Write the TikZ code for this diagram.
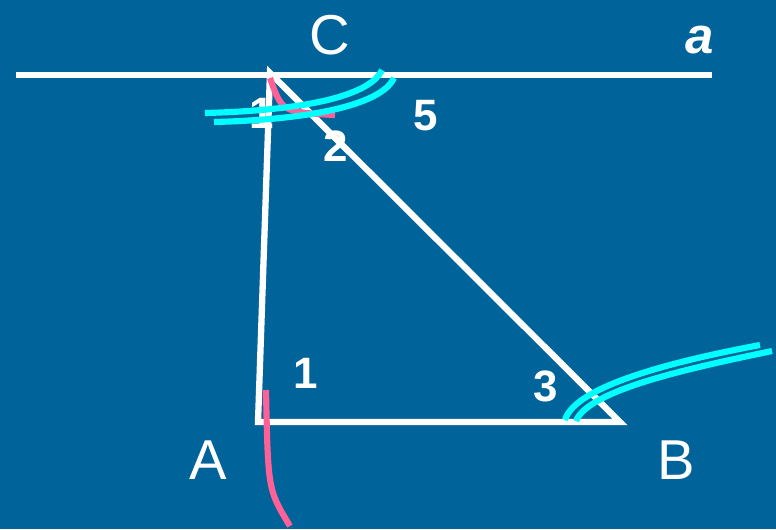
\documentclass[tikz,border=0pt]{standalone}
\usepackage{fontspec}
\setmainfont{Liberation Sans}
\usetikzlibrary{positioning}
\definecolor{bgblue}{RGB}{0,99,154}
\definecolor{arccyan}{RGB}{0,255,255}
\definecolor{arcpink}{RGB}{255,96,150}
\begin{document}
\begin{tikzpicture}[x=0.02cm,y=-0.02cm]

\tikzset{side/.style = {draw=white,line width=3.6pt}}
\tikzset{cyanarc/.style = {draw=arccyan,line width=3.5pt}}
\tikzset{pinkarc/.style = {draw=arcpink,line width=3.5pt}}
\tikzset{vname/.style = {text=white,font=\fontsize{32}{32}\selectfont}}
\tikzset{num/.style = {text=white,font=\fontsize{25}{25}\selectfont\bfseries}}
\fill[bgblue] (0,0) rectangle (776,529);
\useasboundingbox (0,0) rectangle (776,529);
% vertices
\coordinate (A) at (258,422);
\coordinate (B) at (620,422);
\coordinate (C) at (270,73);
\coordinate (a1) at (16,75);
\coordinate (a2) at (712,75);
\node[vname] (nA) at (208,460) {A};
\node[vname] (nB) at (676,460) {B};
\node[vname] (nC) at (330,35) {C};
\node[text=white,font=\fontsize{29}{29}\selectfont\bfseries\itshape] (na) at (700,40) {a};
\node[num] (n1c) at (262,113) {1};
\node[num] (n2) at (336,146) {2};
\node[num] (n5) at (426,116) {5};
\node[num] (n1a) at (306,373) {1};
\node[num] (n3) at (546,386) {3};
%edges
\draw[side] (a1) -- (a2);
\draw[side] (A) -- (C) -- (B) -- cycle;
% arcs
\draw[pinkarc] (270,78) .. controls (282,112) .. (335,115);
\draw[pinkarc] (266,390) .. controls (268,490) .. (290,526);
\draw[cyanarc] (205,113) .. controls (320,110) and (372,92) .. (382,70);
\draw[cyanarc] (214,122) .. controls (330,119) and (384,100) .. (394,78);
\draw[cyanarc] (565,420) .. controls (575,385) and (680,360) .. (760,345);
\draw[cyanarc] (576,421) .. controls (588,390) and (690,368) .. (772,351);
\end{tikzpicture}
\end{document}
